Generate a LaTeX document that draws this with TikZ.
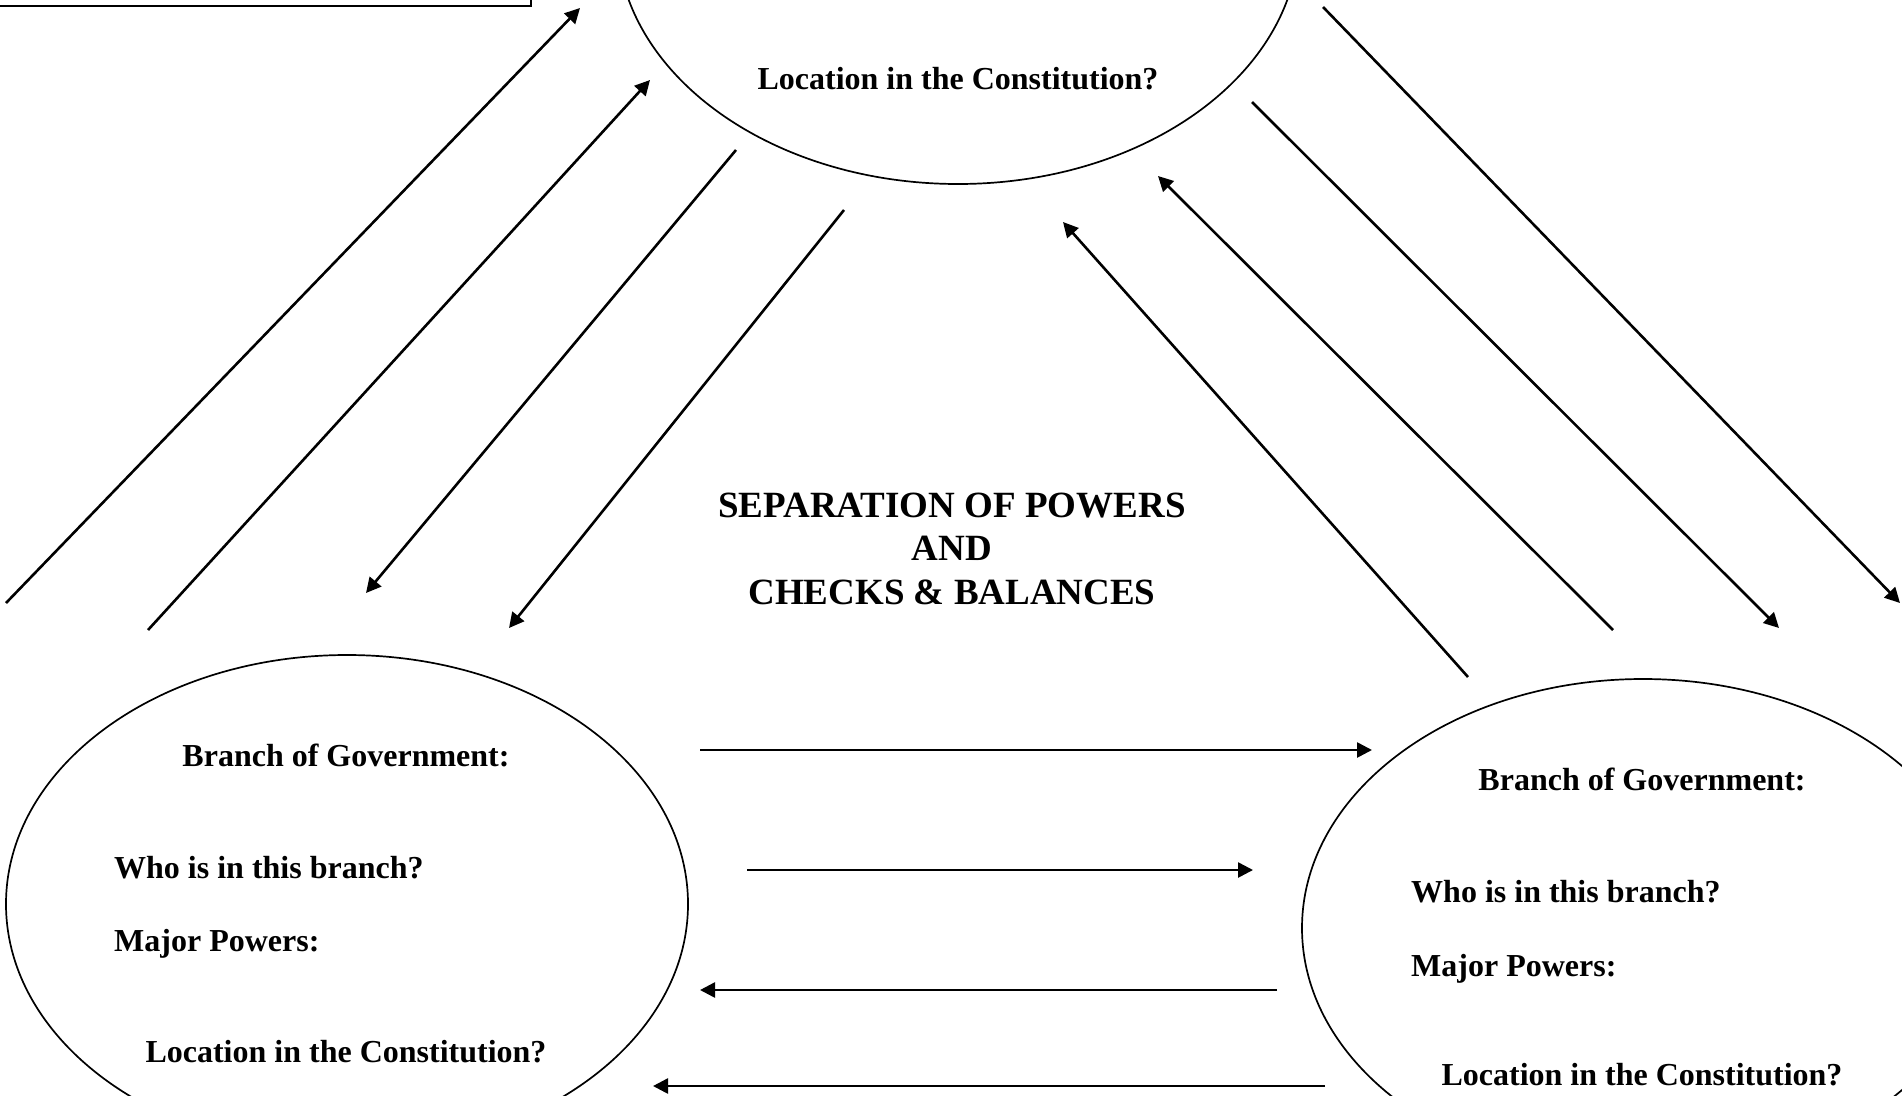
\documentclass[tikz,border=0pt]{standalone}
\usepackage{fontspec}
\setmainfont{Liberation Serif}
\usetikzlibrary{shapes.geometric,arrows.meta}
\begin{document}
\begin{tikzpicture}[x=1pt,y=-1pt,
  branch/.style={draw=black,line width=1.7pt,ellipse,minimum width=682pt,minimum height=498pt,inner sep=0pt},
  lbl/.style={font=\fontsize{32}{38}\selectfont\bfseries,inner sep=0pt},
  ttl/.style={font=\fontsize{37}{44}\selectfont\bfseries,inner sep=0pt,align=center},
  conn/.style={line width=2.6pt,-{Triangle[length=15pt,width=15pt]}}]
\path[use as bounding box,clip] (0,0) rectangle (1902,1095);
\fill[white] (0,0) rectangle (1902,1095);
% box at top-left
\draw[line width=2.6pt] (-10,-30) rectangle (531,6);
% ellipses
\node[branch] (top) at (958,-65) {};
\node[branch] (lft) at (347,904) {};
\node[branch] (rgt) at (1643,928) {};
% texts
\node[lbl,anchor=base] (tloc) at (958,89) {Location in the Constitution?};
\node[lbl,anchor=base] (lbr) at (346,766) {Branch of Government:};
\node[lbl,anchor=base west] (lwho) at (114,878) {Who is in this branch?};
\node[lbl,anchor=base west] (lmaj) at (114,951) {Major Powers:};
\node[lbl,anchor=base] (lloc) at (346,1062) {Location in the Constitution?};
\node[lbl,anchor=base] (rbr) at (1642,790) {Branch of Government:};
\node[lbl,anchor=base west] (rwho) at (1411,902) {Who is in this branch?};
\node[lbl,anchor=base west] (rmaj) at (1411,976) {Major Powers:};
\node[lbl,anchor=base] (rloc) at (1642,1085) {Location in the Constitution?};
\node[ttl,anchor=base] (t1) at (952,517) {SEPARATION OF POWERS};
\node[ttl,anchor=base] (t2) at (952,560) {AND};
\node[ttl,anchor=base] (t3) at (952,604) {CHECKS \& BALANCES};
% connector end points
\coordinate (a1s) at (6,603);   \coordinate (a1e) at (580,8);
\coordinate (a2s) at (148,630); \coordinate (a2e) at (650,80);
\coordinate (a3s) at (736,150); \coordinate (a3e) at (366,593);
\coordinate (a4s) at (844,210); \coordinate (a4e) at (509,628);
\coordinate (a5s) at (1468,677); \coordinate (a5e) at (1063,222);
\coordinate (a6s) at (1613,630); \coordinate (a6e) at (1158,176);
\coordinate (a7s) at (1252,102); \coordinate (a7e) at (1779,628);
\coordinate (a8s) at (1323,7);   \coordinate (a8e) at (1900,603);
\coordinate (h1s) at (700,750);  \coordinate (h1e) at (1372,750);
\coordinate (h2s) at (747,870);  \coordinate (h2e) at (1253,870);
\coordinate (h3s) at (1277,990); \coordinate (h3e) at (700,990);
\coordinate (h4s) at (1325,1086); \coordinate (h4e) at (653,1086);
% connectors
\foreach \c in {a1,a2,a3,a4,a5,a6,a7,a8,h1,h2,h3,h4}
  \draw[conn] (\c s) -- (\c e);
\end{tikzpicture}
\end{document}
